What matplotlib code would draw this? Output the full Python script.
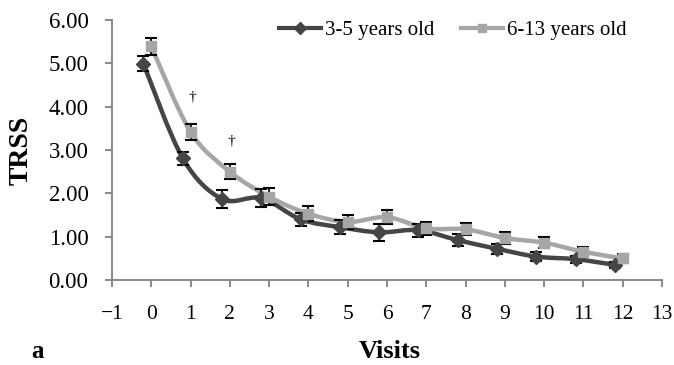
import matplotlib.pyplot as plt
from matplotlib.path import Path
from matplotlib.patches import PathPatch
from matplotlib.lines import Line2D

# ---------------- Data ----------------
visits = list(range(13))
young = [4.99, 2.81, 1.87, 1.89, 1.40, 1.22, 1.10, 1.15, 0.92, 0.72, 0.54, 0.48, 0.35]
young_err = [0.17, 0.15, 0.20, 0.20, 0.15, 0.16, 0.20, 0.15, 0.13, 0.12, 0.10, 0.08, 0.07]
old = [5.39, 3.42, 2.50, 1.92, 1.53, 1.34, 1.45, 1.19, 1.17, 0.97, 0.86, 0.65, 0.50]
old_err = [0.20, 0.18, 0.17, 0.20, 0.17, 0.17, 0.16, 0.15, 0.14, 0.14, 0.13, 0.10, 0.10]
labels = ["3-5 years old", "6-13 years old"]
dagger_visits = [1, 2]

DARK = "#454545"
LIGHT = "#a6a6a6"
SERIF = ["Liberation Serif", "DejaVu Serif"]
plt.rcParams["font.family"] = SERIF


def smooth_path(xs, ys):
    # Excel-style smoothed line as cubic Bezier segments
    pts = list(zip(xs, ys))
    n = len(pts)
    verts = [pts[0]]
    codes = [Path.MOVETO]
    for i in range(n - 1):
        p0 = pts[max(i - 1, 0)]
        p1 = pts[i]
        p2 = pts[i + 1]
        p3 = pts[min(i + 2, n - 1)]
        c1 = (p1[0] + (p2[0] - p0[0]) / 6, p1[1] + (p2[1] - p0[1]) / 6)
        c2 = (p2[0] - (p3[0] - p1[0]) / 6, p2[1] - (p3[1] - p1[1]) / 6)
        verts += [c1, c2, p2]
        codes += [Path.CURVE4] * 3
    return Path(verts, codes)


fig = plt.figure(figsize=(6.74, 3.65), dpi=100)
ax = fig.add_axes([0.1662, 0.2329, 0.816, 0.7123])

x_young = [v - 0.2 for v in visits]
x_old = visits

for xs, ys, err, col, mk, ms in [
    (x_young, young, young_err, DARK, "D", 7),
    (x_old, old, old_err, LIGHT, "s", 7.5),
]:
    ax.add_patch(PathPatch(smooth_path(xs, ys), fill=False, edgecolor=col,
                           linewidth=3.2, zorder=2))
    ax.errorbar(xs, ys, yerr=err, fmt=mk, color=col, markersize=ms,
                ecolor="black", elinewidth=1.3, capsize=4.5, capthick=1.5,
                zorder=3)

for v, yv in zip(dagger_visits, [4.2, 3.2]):
    ax.text(v + 0.05, yv, "\u2020", ha="center", va="center", fontsize=11)

ax.set_xlim(-1, 13)
ax.set_ylim(0, 6)
ax.set_xticks(range(-1, 14))
ax.set_xticklabels(["\u22121"] + [str(i) for i in range(0, 14)])
ax.set_yticks([0, 1, 2, 3, 4, 5, 6])
ax.set_yticklabels([f"{v:.2f}" for v in range(7)])

for s in ["top", "right"]:
    ax.spines[s].set_visible(False)
for s in ["left", "bottom"]:
    ax.spines[s].set_color("#808080")
    ax.spines[s].set_linewidth(1.3)
ax.tick_params(axis="both", colors="#808080", width=1.3, length=5,
               labelcolor="black", labelsize=15.5)
ax.tick_params(axis="y", labelsize=16.5, pad=12)
ax.tick_params(axis="x", pad=13)

ax.set_ylabel("TRSS", fontsize=20, fontweight="bold")
ax.yaxis.set_label_coords(-0.143, 0.5)
fig.text(0.578, 0.02, "Visits", fontsize=19, fontweight="bold", ha="center")
fig.text(0.055, 0.02, "a", fontsize=18, fontweight="bold", ha="center")

handles = [
    Line2D([], [], color=DARK, lw=3, marker="D", markersize=6),
    Line2D([], [], color=LIGHT, lw=3, marker="s", markersize=6),
]
ax.legend(handles, labels, loc="upper right", bbox_to_anchor=(0.97, 1.07),
          ncol=2, frameon=False, fontsize=15, handlelength=2.0,
          handletextpad=0.2, columnspacing=1.3)

fig.savefig("out.png", dpi=100)
